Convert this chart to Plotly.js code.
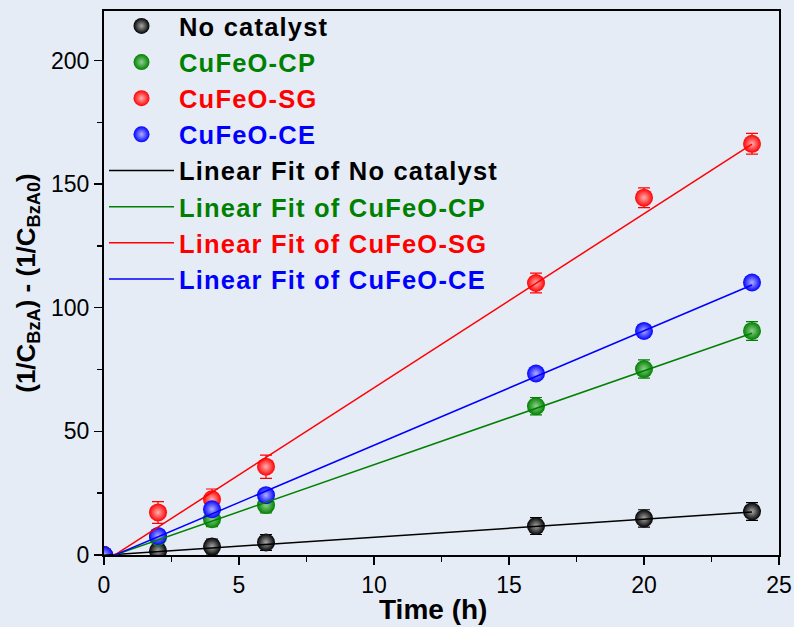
<!DOCTYPE html>
<html>
<head>
<meta charset="utf-8">
<script src="https://cdn.plot.ly/plotly-3.0.1.min.js"></script>
<style>
html,body{margin:0;padding:0;background:#e6ecf6;}
.legendtext{letter-spacing:1.2px;}
</style>
</head>
<body>
<div id="chart" style="width:794px;height:627px;"></div>
<script>
// Time (h)
const timeH = [0, 2, 4, 6, 16, 20, 24];
// Measured (1/C_BzA) - (1/C_BzA0)
const noCatalyst = [0, 1.7, 3.4, 5.1, 11.7, 14.8, 17.6];
const cufeoCP    = [0, 7.2, 14.5, 20.2, 60.2, 75.2, 90.6];
const cufeoSG    = [0, 17.2, 22.5, 35.7, 110.0, 144.5, 166.3];
const cufeoCE    = [0, 7.7, 18.5, 24.2, 73.4, 90.6, 110.2];
// Error bars
const errNo = [0, 2.5, 3.0, 3.2, 3.4, 3.5, 3.6];
const errCP = [0, 2.5, 3.0, 3.2, 3.5, 3.7, 3.8];
const errSG = [0, 4.4, 4.2, 4.7, 4.0, 4.0, 4.2];
const errCE = [0, 1.0, 1.0, 1.0, 1.0, 1.0, 1.0];
// Linear fits (endpoints at t = 0 and t = 24)
const fitX = [0, 24];
const fitNo = [-0.1, 17.4];
const fitCP = [-1.5, 89.7];
const fitSG = [-2.8, 166.2];
const fitCE = [-1.9, 109.2];

const names = ['No catalyst', 'CuFeO-CP', 'CuFeO-SG', 'CuFeO-CE'];
const colors = ['#000000', '#008000', '#ff0000', '#0000ff'];
const hilite = ['#a8a8a8', '#8fd08f', '#ffb0b0', '#b0b0ff'];
const series = [noCatalyst, cufeoCP, cufeoSG, cufeoCE];
const errs = [errNo, errCP, errSG, errCE];
const fits = [fitNo, fitCP, fitSG, fitCE];

const traces = [];
series.forEach((ys, i) => {
  traces.push({
    x: timeH, y: ys, type: 'scatter', mode: 'markers',
    name: '<span style="color:' + colors[i] + '">' + names[i] + '</span>',
    marker: {size: 18, color: colors[i], line: {width: 0},
             gradient: {type: 'radial', color: hilite[i]}},
    error_y: {type: 'data', array: errs[i], visible: true, color: colors[i], thickness: 1.2, width: 6}
  });
});
fits.forEach((ys, i) => {
  traces.push({
    x: fitX, y: ys, type: 'scatter', mode: 'lines',
    name: '<span style="color:' + colors[i] + '">Linear Fit of ' + names[i] + '</span>',
    line: {color: colors[i], width: 1.5}
  });
});

const FAM = 'Liberation Sans, Arial, sans-serif';
const axisFont = {family: FAM, size: 23, color: '#000'};
const layout = {
  width: 794, height: 627,
  paper_bgcolor: '#e6ecf6', plot_bgcolor: '#e6ecf6',
  margin: {l: 104, r: 15, t: 11, b: 72, autoexpand: false},
  showlegend: true,
  legend: {
    x: 0, y: 1.015, xanchor: 'left', yanchor: 'top',
    bgcolor: 'rgba(0,0,0,0)', borderwidth: 0,
    font: {family: FAM, size: 25.5, weight: 'bold', color: '#000'},
    itemwidth: 65, tracegroupgap: 0
  },
  xaxis: {
    range: [0, 25], dtick: 5, tick0: 0,
    showgrid: false, zeroline: false,
    showline: true, linecolor: '#000', linewidth: 2, mirror: true,
    ticks: 'outside', ticklen: 8, tickwidth: 1.5, tickcolor: '#000',
    minor: {dtick: 2.5, ticks: 'outside', ticklen: 5, tickwidth: 1.5, tickcolor: '#000', showgrid: false},
    tickfont: axisFont
  },
  yaxis: {
    range: [0, 220], dtick: 50, tick0: 0,
    showgrid: false, zeroline: false,
    showline: true, linecolor: '#000', linewidth: 2, mirror: true,
    ticks: 'outside', ticklen: 8, tickwidth: 1.5, tickcolor: '#000',
    minor: {dtick: 25, ticks: 'outside', ticklen: 5, tickwidth: 1.5, tickcolor: '#000', showgrid: false},
    tickfont: axisFont,
    title: {text: '<b>(1/C<sub>BzA</sub>) - (1/C<sub>BzA0</sub>)</b>', font: {family: FAM, size: 26, weight: 'bold', color: '#000'}, standoff: 8}
  },
  annotations: [{
    text: '<b>Time (h)</b>', xref: 'paper', yref: 'paper',
    x: 0.487, y: -0.101, xanchor: 'center', yanchor: 'middle',
    showarrow: false, font: {family: FAM, size: 28, weight: 'bold', color: '#000'}
  }]
};

Plotly.newPlot('chart', traces, layout, {displayModeBar: false, staticPlot: true});
</script>
</body>
</html>
